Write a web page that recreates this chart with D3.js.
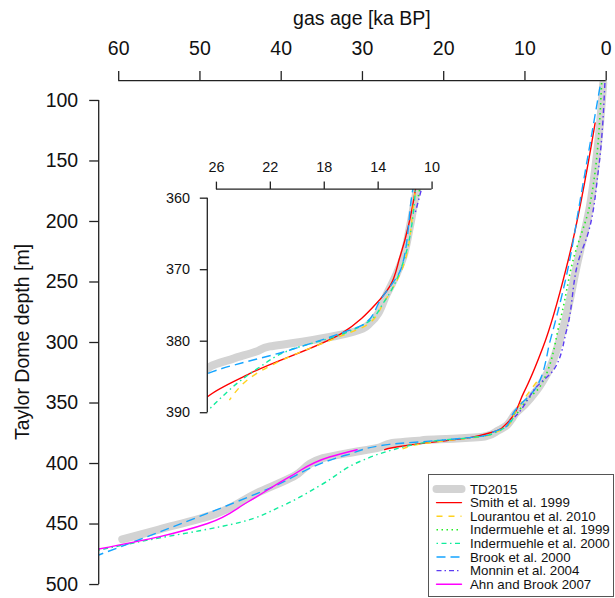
<!DOCTYPE html>
<html>
  <head>
    <meta charset="utf-8">
    <title>Taylor Dome gas age</title>
    <script src="https://cdn.jsdelivr.net/npm/d3@7"></script>
    <style>
      body { margin: 0; background: #fff; }
      svg { font-family: "Liberation Sans", Arial, sans-serif; }
      .domain, .tick line { stroke: #222; stroke-width: 1.3; }
      .tick text { fill: #111; }
      .series { fill: none; }
    </style>
  </head>
  <body>
    <svg id="svg" width="615" height="598"></svg>
    <script>
      // data: [gas age ka BP, depth m]
      var td2015 = [[0.3, 86], [1.0, 140], [2.0, 190], [3.5, 235], [5.3, 290], [7.2, 326], [8.5, 340], [10, 352],
        [11.1, 359], [11.6, 364], [12.1, 368.3], [13.3, 373.4], [14.6, 377.6], [15.1, 378.3], [16.8, 379.2],
        [18.8, 379.9], [20.5, 380.4], [22.0, 380.8], [23.0, 381.5], [24.7, 382.5], [26.4, 383.6], [27.8, 387],
        [31.9, 392], [34.8, 396], [38.4, 411], [43, 425], [48, 442], [55, 455], [59.5, 463]];
      var smith1999 = [[1.3, 119], [4.6, 232], [7.7, 304], [10.1, 342], [12.35, 368.3], [13.1, 372.4],
        [14.1, 374.8], [16.7, 379], [23.5, 384.6], [26.6, 387.8], [27.2, 389]];
      var lourantou2010 = [[8.5, 333], [11.2, 359], [12.0, 369], [13.5, 374.5], [14.8, 377.8], [16.8, 379.4],
        [20.5, 382.2], [23.0, 384.6], [25.0, 388.3]];
      var indermuehle1999 = [[0.5, 86], [1.9, 185], [4.0, 232], [5.6, 282], [8.1, 337], [9.7, 348], [11.0, 360]];
      var indermuehle2000 = [[11.2, 359], [12.1, 369], [13.5, 374.5], [14.9, 377.6], [16.8, 379.2], [20.5, 381.3],
        [23.0, 384], [26.4, 389.4], [30, 398], [35, 418], [40, 436], [45, 449], [50, 456], [55, 462], [62.4, 472]];
      var brook2000 = [[0.7, 89], [3.2, 185], [4.6, 238], [6.8, 298], [8.5, 337], [11.4, 358.9], [12.2, 369.6],
        [13.8, 374.3], [14.95, 377.6], [16.8, 379], [20.5, 381.3], [26.6, 384.6], [31.9, 393.4], [41.3, 420.7],
        [62.4, 476]];
      var monnin2004 = [[0.1, 86], [0.9, 158], [2.3, 213], [3.2, 229.5], [4.8, 290], [6.4, 323], [8.5, 337],
        [10.9, 359.9], [11.2, 362]];
      var ahnBrook2007 = [[30.6, 389], [34, 395], [38.8, 411], [44, 432], [49, 450], [55, 461], [62.4, 471]];

      var series = [
        { name: "TD2015", data: td2015, color: "#d3d3d3", width: 8, dash: null },
        { name: "Smith et al. 1999", data: smith1999, color: "#ff0000", width: 1.4, dash: null },
        { name: "Lourantou et al. 2010", data: lourantou2010, color: "#ffd21f", width: 1.4, dash: "6,6" },
        { name: "Indermuehle et al. 1999", data: indermuehle1999, color: "#22ee22", width: 1.6, dash: "1.5,3.5" },
        { name: "Indermuehle et al. 2000", data: indermuehle2000, color: "#10ec9c", width: 1.4, dash: "1.5,3.5,5,3.5" },
        { name: "Brook et al. 2000", data: brook2000, color: "#14a4ff", width: 1.4, dash: "9,5" },
        { name: "Monnin et al. 2004", data: monnin2004, color: "#5c3cf2", width: 1.4, dash: "5,3,1.5,3" },
        { name: "Ahn and Brook 2007", data: ahnBrook2007, color: "#ff00ff", width: 1.4, dash: null }
      ];
      var ageTicks = [60, 50, 40, 30, 20, 10, 0];
      var depthTicks = [100, 150, 200, 250, 300, 350, 400, 450, 500];
      var insetAgeTicks = [26, 22, 18, 14, 10];
      var insetDepthTicks = [360, 370, 380, 390];

      var svg = d3.select("#svg");

      // main scales (R style 4% padding)
      var x = d3.scaleLinear().domain([62.4, -2.4]).range([98.7, 625.2]);
      var y = d3.scaleLinear().domain([84, 516]).range([80.6, 603.4]);
      // inset scales
      var xi = d3.scaleLinear().domain([26.64, 9.36]).range([207.3, 440.2]);
      var yi = d3.scaleLinear().domain([358.8, 391.2]).range([189.1, 420.8]);

      var defs = svg.append("defs");
      defs.append("clipPath").attr("id", "clipMain").append("rect")
        .attr("x", x(62.4)).attr("y", y(84)).attr("width", x(-2.4) - x(62.4)).attr("height", y(516) - y(84));
      defs.append("clipPath").attr("id", "clipInset").append("rect")
        .attr("x", xi(26.64)).attr("y", yi(358.8)).attr("width", xi(9.36) - xi(26.64)).attr("height", yi(391.2) - yi(358.8));

      function drawLines(g, sx, sy) {
        var line = d3.line()
          .x(function(d) { return sx(d[0]); })
          .y(function(d) { return sy(d[1]); })
          .curve(d3.curveMonotoneY);
        g.selectAll(".series")
            .data(series)
          .enter().append("path")
            .attr("class", "series")
            .attr("d", function(d) { return line(d.data); })
            .attr("stroke", function(d) { return d.color; })
            .attr("stroke-width", function(d) { return d.width; })
            .attr("stroke-dasharray", function(d) { return d.dash; })
            .attr("stroke-linecap", function(d) { return d.dash ? "butt" : "round"; })
            .attr("stroke-linejoin", "round");
      }

      drawLines(svg.append("g").attr("clip-path", "url(#clipMain)"), x, y);

      // main axes
      var topAxis = svg.append("g")
        .attr("transform", "translate(0," + y(84) + ")")
        .call(d3.axisTop(x).tickValues(ageTicks).tickSize(9.5).tickSizeOuter(0).tickPadding(16));
      topAxis.select(".domain").attr("d", "M" + x(60) + ",0H" + x(0));
      topAxis.selectAll(".tick text").style("font-size", "19.5px");

      var leftAxis = svg.append("g")
        .attr("transform", "translate(" + x(62.4) + ",0)")
        .call(d3.axisLeft(y).tickValues(depthTicks).tickSize(9.5).tickSizeOuter(0).tickPadding(11));
      leftAxis.select(".domain").attr("d", "M0," + y(100) + "V" + y(500));
      leftAxis.selectAll(".tick text").style("font-size", "19.5px");

      svg.append("text")
        .attr("x", (x(60) + x(0)) / 2).attr("y", 25)
        .attr("text-anchor", "middle").style("font-size", "19.5px").attr("fill", "#111")
        .text("gas age [ka BP]");
      svg.append("text")
        .attr("transform", "translate(29," + (y(100) + y(500)) / 2 + ") rotate(-90)")
        .attr("text-anchor", "middle").style("font-size", "19.5px").attr("fill", "#111")
        .text("Taylor Dome depth [m]");

      // inset
      var inset = svg.append("g");
      drawLines(inset.append("g").attr("clip-path", "url(#clipInset)"), xi, yi);
      var insetTop = inset.append("g")
        .attr("transform", "translate(0," + yi(358.8) + ")")
        .call(d3.axisTop(xi).tickValues(insetAgeTicks).tickSize(7.5).tickSizeOuter(0).tickPadding(9.5));
      insetTop.select(".domain").attr("d", "M" + xi(26) + ",0H" + xi(10));
      insetTop.selectAll(".tick text").style("font-size", "14.4px");
      var insetLeft = inset.append("g")
        .attr("transform", "translate(" + xi(26.64) + ",0)")
        .call(d3.axisLeft(yi).tickValues(insetDepthTicks).tickSize(7.5).tickSizeOuter(0).tickPadding(9.8));
      insetLeft.select(".domain").attr("d", "M0," + yi(360) + "V" + yi(390));
      insetLeft.selectAll(".tick text").style("font-size", "14.4px");

      // legend
      var legend = svg.append("g").attr("transform", "translate(428.5,474.5)");
      legend.append("rect")
        .attr("width", 185).attr("height", 122)
        .attr("fill", "#fff").attr("stroke", "#555").attr("stroke-width", 1);
      var items = legend.selectAll(".item")
          .data(series)
        .enter().append("g")
          .attr("class", "item")
          .attr("transform", function(d, i) { return "translate(0," + (14.5 + i * 13.6) + ")"; });
      items.append("line")
        .attr("x1", 8).attr("x2", 33)
        .attr("stroke", function(d) { return d.color; })
        .attr("stroke-width", function(d) { return d.width; })
        .attr("stroke-dasharray", function(d) { return d.dash; })
        .attr("stroke-linecap", function(d) { return d.dash ? "butt" : "round"; });
      items.append("text")
        .attr("x", 41.5).attr("dy", "0.35em")
        .style("font-size", "13.3px").attr("fill", "#111")
        .text(function(d) { return d.name; });
    </script>
  </body>
</html>
